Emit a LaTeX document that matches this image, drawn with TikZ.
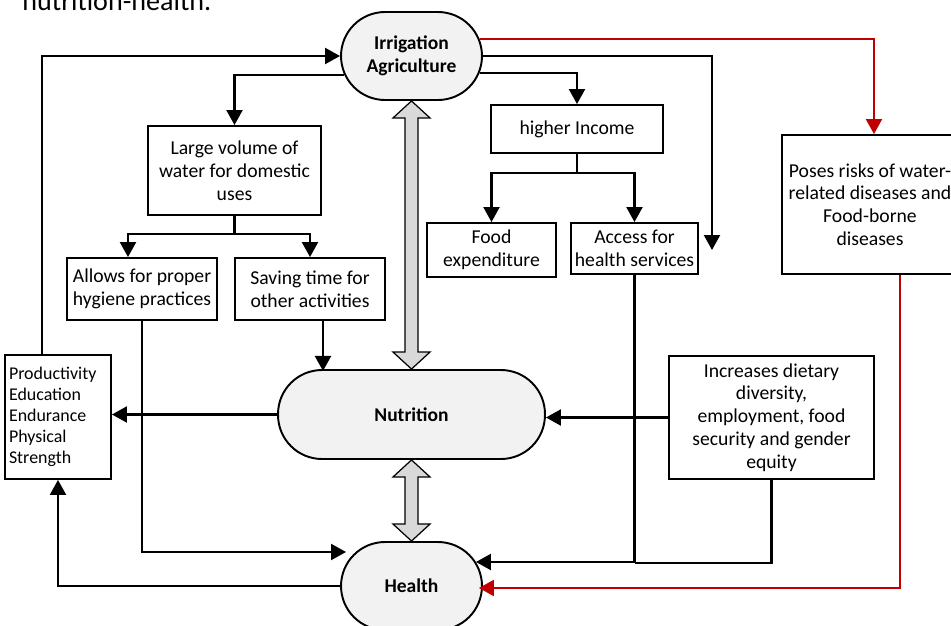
\documentclass[tikz,border=0pt]{standalone}
\usepackage{fontspec}
\setmainfont{Carlito}
\usepackage{tikz}
\usetikzlibrary{arrows.meta,positioning,calc}

\definecolor{hubgray}{HTML}{F2F2F2}
\definecolor{shaftgray}{HTML}{D9D9D9}
\definecolor{riskred}{HTML}{C00000}

\begin{document}
\begin{tikzpicture}[
    x=0.02cm,
    y=-0.02cm,
    font=\fontsize{11.2}{13}\selectfont,
    block/.style={
        rectangle,
        draw,
        line width=1.1pt,
        align=center,
        inner sep=2pt
    },
    hub/.style={
        rectangle,
        draw,
        line width=1.1pt,
        fill=hubgray,
        rounded corners=0.88cm,
        font=\fontsize{11.1}{13}\selectfont\bfseries
    },
    line/.style={
        draw,
        line width=1.25pt
    },
    arr/.style={
        line,
        -{Triangle[length=0.3cm,width=0.32cm]}
    },
    risk/.style={
        arr,
        color=riskred
    },
    twoway/.style={
        draw,
        line width=0.7pt,
        fill=shaftgray
    }
]

\useasboundingbox (0,0) rectangle (951,626);
\clip (0,0) rectangle (951,626);

% Caption remainder
\node [anchor=base west, inner sep=0pt, font=\fontsize{16}{19}\selectfont] (caption) at (22,10) {nutrition-health.};

% Hubs
\node [hub, minimum width=2.82cm, minimum height=1.76cm, align=center] (irr) at (411.5,56) {Irrigation\\Agriculture};
\node [hub, minimum width=5.34cm, minimum height=1.78cm] (nut) at (411.5,414.5) {Nutrition};
\node [hub, minimum width=2.82cm, minimum height=1.76cm] (hea) at (411.5,586) {Health};

% Left branch
\node [block, minimum width=3.46cm, minimum height=1.78cm] (large) at (234.5,170.5) {Large volume of\\water for domestic\\uses};
\node [block, minimum width=3cm, minimum height=1.24cm] (allows) at (142,289) {Allows for proper\\hygiene practices};
\node [block, minimum width=3cm, minimum height=1.24cm] (saving) at (310,289) {Saving time for\\other activities};
\node [block, align=left, text width=1.96cm, inner xsep=0.08cm, minimum height=2.48cm, font=\fontsize{10.2}{11.9}\selectfont] (prod) at (58,417) {Productivity\\Education\\Endurance\\Physical\\Strength};

% Right branch
\node [block, minimum width=3.44cm, minimum height=0.96cm] (income) at (577,129) {higher Income};
\node [block, minimum width=2.58cm, minimum height=1.08cm] (food) at (491.5,250) {Food\\expenditure};
\node [block, minimum width=2.54cm, minimum height=1.02cm] (access) at (634.5,248.5) {Access for\\health services};
\node [block, minimum width=3.52cm, minimum height=2.78cm] (poses) at (870,204.5) {Poses risks of water-\\related diseases and\\Food-borne\\diseases};
\node [block, minimum width=4.1cm, minimum height=2.46cm] (incr) at (771.5,417.5) {Increases dietary\\diversity,\\employment, food\\security and gender\\equity};
\coordinate (drop) at (712,250);

% Two-way links
\path [twoway] (irr.south) -- ([xshift=0.37cm,yshift=-0.34cm]irr.south) -- ([xshift=0.13cm,yshift=-0.34cm]irr.south)
    -- ([xshift=0.13cm,yshift=0.34cm]nut.north) -- ([xshift=0.37cm,yshift=0.34cm]nut.north) -- (nut.north)
    -- ([xshift=-0.37cm,yshift=0.34cm]nut.north) -- ([xshift=-0.13cm,yshift=0.34cm]nut.north)
    -- ([xshift=-0.13cm,yshift=-0.34cm]irr.south) -- ([xshift=-0.37cm,yshift=-0.34cm]irr.south) -- cycle;
\path [twoway] (nut.south) -- ([xshift=0.37cm,yshift=-0.34cm]nut.south) -- ([xshift=0.13cm,yshift=-0.34cm]nut.south)
    -- ([xshift=0.13cm,yshift=0.34cm]hea.north) -- ([xshift=0.37cm,yshift=0.34cm]hea.north) -- (hea.north)
    -- ([xshift=-0.37cm,yshift=0.34cm]hea.north) -- ([xshift=-0.13cm,yshift=0.34cm]hea.north)
    -- ([xshift=-0.13cm,yshift=-0.34cm]nut.south) -- ([xshift=-0.37cm,yshift=-0.34cm]nut.south) -- cycle;

% Edges
\path [arr] ([xshift=-0.32cm]prod.north) |- (irr.west);
\path [arr] ($(irr.west)+(4,19)$) -| (large.north);
\path [arr] (large.south) -- ++(0,18) -| ([xshift=-0.28cm]allows.north);
\path [arr] (large.south) -- ++(0,18) -| (saving.north);
\path [arr] (allows.south) |- ($(hea.west)+(6,-34)$);
\path [arr] ([xshift=0.26cm]saving.south) -- ++(0,50);
\path [arr] (nut.west) -- (nut.west -| prod.east);
\path [arr] (hea.west) -| (prod.south);
\path [arr] ($(irr.east)+(-3,17)$) -| (income.north);
\path [arr] (income.south) -- ++(0,19) -| (food.north);
\path [arr] (income.south) -- ++(0,19) -| (access.north);
\path [arr] (irr.east) -| (drop);
\path [arr] (access.south) |- ($(hea.east)+(-7,-24)$);
\path [line] (incr.south) |- ($(access.south)+(0,288)$);
\path [arr] (incr.west) -- (incr.west -| nut.east);
\path [risk] ($(irr.east)+(-3,-17)$) -| ([xshift=0.08cm]poses.north);
\path [risk] ([xshift=0.6cm]poses.south) |- ($(hea.east)+(-4,2)$);

\end{tikzpicture}
\end{document}
